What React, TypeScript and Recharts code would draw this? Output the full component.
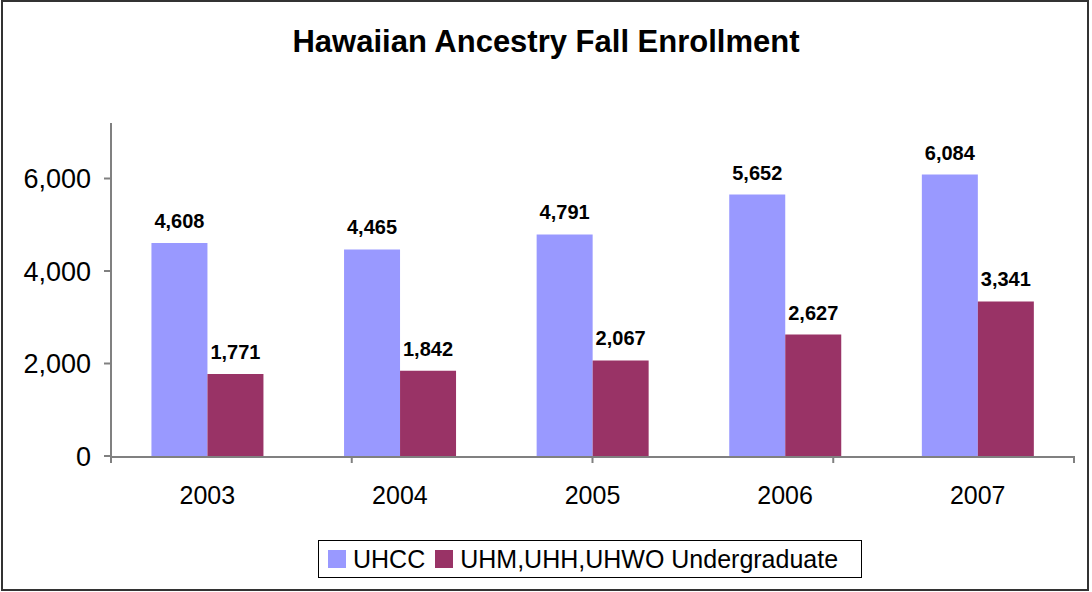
import React from 'react';
import { BarChart, Bar, XAxis, YAxis, LabelList, Legend } from 'recharts';

const years = ['2003', '2004', '2005', '2006', '2007'];
const uhcc = [4608, 4465, 4791, 5652, 6084];
const uhmUndergrad = [1771, 1842, 2067, 2627, 3341];
const yTicks = [0, 2000, 4000, 6000];
const boundaryTicks = [0, 1, 2, 3, 4, 5];
const seriesNames = ['UHCC', 'UHM,UHH,UHWO Undergraduate'];
const seriesColors = ['#9999FF', '#993366'];

const data = years.map((y, i) => ({ year: y, uhcc: uhcc[i], uhm: uhmUndergrad[i] }));

const FONT = '"Liberation Sans", Arial, sans-serif';
const fmt = (v: any) => Number(v).toLocaleString('en-US');

const LegendContent = () => (
  <div
    style={{
      boxSizing: 'border-box',
      width: '100%',
      height: '100%',
      border: '1px solid #000',
      background: '#fff',
      display: 'flex',
      alignItems: 'center',
      paddingLeft: 9,
      fontFamily: FONT,
      fontSize: 25,
      color: '#000',
    }}
  >
    {seriesNames.map((n, i) => (
      <div key={n} style={{ display: 'flex', alignItems: 'center', marginRight: 10 }}>
        <span style={{ display: 'inline-block', width: 18, height: 18, background: seriesColors[i], marginRight: 7 }} />
        <span>{n}</span>
      </div>
    ))}
  </div>
);

export default function App() {
  return (
    <div style={{ position: 'absolute', left: 0, top: 0, width: 1092, height: 592, background: '#fff' }}>
      <div
        style={{
          position: 'absolute',
          left: 1,
          top: 0,
          width: 1088,
          height: 591,
          boxSizing: 'border-box',
          border: '2px solid #333',
        }}
      />
      <BarChart
        width={1092}
        height={592}
        data={data}
        margin={{ top: 123, right: 18, bottom: 96, left: 0 }}
        barCategoryGap="21%"
        barGap={0}
        style={{ position: 'absolute', left: 0, top: 0, fontFamily: FONT }}
      >
        <text x={546} y={52} textAnchor="middle" fontFamily={FONT} fontWeight="bold" fontSize={31} fill="#000">
          Hawaiian Ancestry Fall Enrollment
        </text>
        <XAxis
          xAxisId="bounds"
          type="number"
          domain={[0, 5]}
          ticks={boundaryTicks}
          height={1}
          axisLine={false}
          tickFormatter={() => ''}
          tick={{ fill: 'none', fontSize: 1 }}
          tickLine={{ stroke: '#808080', strokeWidth: 2 }}
          tickSize={7}
        />
        <XAxis
          xAxisId="cat"
          dataKey="year"
          height={39}
          axisLine={{ stroke: '#808080', strokeWidth: 2 }}
          tickLine={false}
          tick={{ fill: '#000', fontSize: 25, fontFamily: FONT }}
          tickMargin={23}
        />
        <YAxis
          width={111}
          domain={[0, 7200]}
          ticks={yTicks}
          allowDataOverflow
          tickFormatter={fmt}
          axisLine={{ stroke: '#808080', strokeWidth: 2 }}
          tickLine={{ stroke: '#808080', strokeWidth: 2 }}
          tickSize={7}
          tickMargin={13}
          tick={{ fill: '#000', fontSize: 27, fontFamily: FONT }}
        />
        <Legend
          layout="horizontal"
          verticalAlign="middle"
          align="center"
          content={<LegendContent />}
          wrapperStyle={{ left: 318, top: 540, width: 544, height: 38 }}
        />
        <Bar xAxisId="cat" dataKey="uhcc" name={seriesNames[0]} fill={seriesColors[0]} isAnimationActive={false}>
          <LabelList dataKey="uhcc" position="top" offset={15} formatter={fmt} style={{ fontWeight: 'bold', fontSize: 20, fill: '#000', fontFamily: FONT }} />
        </Bar>
        <Bar xAxisId="cat" dataKey="uhm" name={seriesNames[1]} fill={seriesColors[1]} isAnimationActive={false}>
          <LabelList dataKey="uhm" position="top" offset={15} formatter={fmt} style={{ fontWeight: 'bold', fontSize: 20, fill: '#000', fontFamily: FONT }} />
        </Bar>
      </BarChart>
    </div>
  );
}
